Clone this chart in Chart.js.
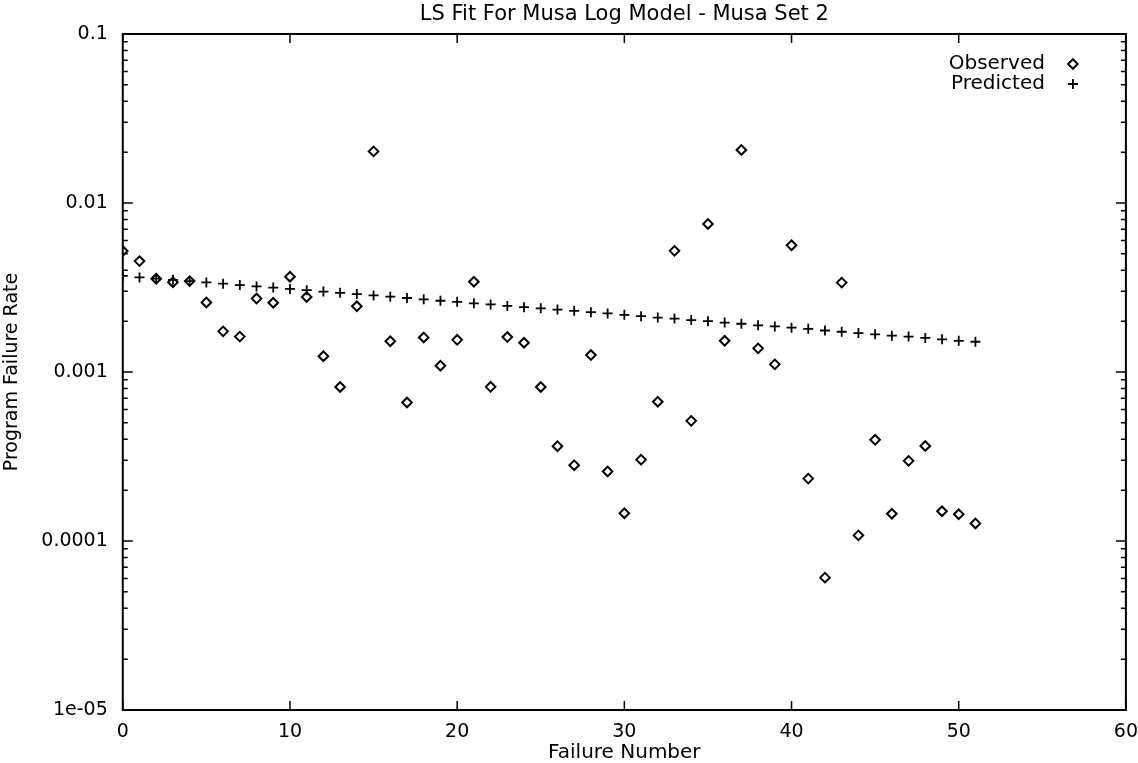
<!DOCTYPE html>
<html>
<head>
<meta charset="utf-8">
<script src="https://cdn.jsdelivr.net/npm/chart.js@4.4.1/dist/chart.umd.min.js"></script>
<style>
body { margin: 0; background: #fff; }
</style>
</head>
<body>
<canvas id="musa" width="1138" height="763"></canvas>
<script>
var failureNumber = [0,1,2,3,4,5,6,7,8,9,10,11,12,13,14,15,16,17,18,19,20,21,22,23,24,25,
  26,27,28,29,30,31,32,33,34,35,36,37,38,39,40,41,42,43,44,45,46,47,48,49,50,51];

var observed = [0.0052,0.00453,0.00356,0.0034,0.00345,0.00258,0.00174,0.00162,0.00272,0.00257,
  0.00366,0.00278,0.00124,0.000815,0.00245,0.0202,0.00152,0.00066,0.0016,0.00109,
  0.00155,0.00342,0.000817,0.00161,0.00149,0.000815,0.000364,0.000281,0.00126,0.000258,
  0.000146,0.000303,0.000667,0.00521,0.000514,0.00752,0.00153,0.0206,0.00138,0.00111,
  0.00562,0.000234,0.0000607,0.00338,0.000108,0.000397,0.000145,0.000298,0.000365,0.00015,
  0.000144,0.000127];

var predicted = [0.0037,0.00363,0.00357,0.00351,0.00345,0.00339,0.00333,0.00327,0.00321,0.00316,
  0.0031,0.00305,0.00299,0.00294,0.00289,0.00284,0.00279,0.00274,0.00269,0.00264,
  0.0026,0.00255,0.00251,0.00246,0.00242,0.00238,0.00234,0.0023,0.00226,0.00222,
  0.00218,0.00214,0.0021,0.00207,0.00203,0.002,0.00196,0.00193,0.00189,0.00186,
  0.00183,0.0018,0.00176,0.00173,0.0017,0.00167,0.00164,0.00162,0.00159,0.00156,
  0.00153,0.00151];

var yTickValues = [1e-5, 1e-4, 1e-3, 1e-2, 1e-1];
var yTickLabels = ['1e-05', '0.0001', '0.001', '0.01', '0.1'];
var chartTitle = 'LS Fit For Musa Log Model - Musa Set 2';

function toPoints(ys) {
  return failureNumber.map(function(x, i) { return {x: x, y: ys[i]}; });
}

Chart.defaults.font.family = '"DejaVu Sans", sans-serif';
Chart.defaults.font.size = 19;
Chart.defaults.color = '#000';

// gnuplot style frame with inward ticks, title and legend
var frameTicks = {
  id: 'frameTicks',
  beforeDatasetsDraw: function(chart) {
    var ctx = chart.ctx, a = chart.chartArea;
    var xs = chart.scales.x, ys = chart.scales.y;
    ctx.save();
    ctx.strokeStyle = '#000';
    ctx.lineWidth = 1.5;
    ctx.beginPath();
    xs.ticks.forEach(function(t) {
      var px = xs.getPixelForValue(t.value);
      ctx.moveTo(px, a.bottom); ctx.lineTo(px, a.bottom - 9);
      ctx.moveTo(px, a.top); ctx.lineTo(px, a.top + 9);
    });
    yTickValues.forEach(function(d, i) {
      var py = ys.getPixelForValue(d);
      ctx.moveTo(a.left, py); ctx.lineTo(a.left + 10, py);
      ctx.moveTo(a.right, py); ctx.lineTo(a.right - 10, py);
      if (i < yTickValues.length - 1) {
        for (var m = 2; m <= 9; m++) {
          var pm = ys.getPixelForValue(d * m);
          ctx.moveTo(a.left, pm); ctx.lineTo(a.left + 5, pm);
          ctx.moveTo(a.right, pm); ctx.lineTo(a.right - 5, pm);
        }
      }
    });
    ctx.stroke();
    ctx.lineWidth = 2;
    ctx.strokeRect(a.left, a.top, a.right - a.left, a.bottom - a.top);
    ctx.restore();
  },
  afterDraw: function(chart) {
    var ctx = chart.ctx, a = chart.chartArea;
    ctx.save();
    ctx.fillStyle = '#000';
    ctx.font = '21px "DejaVu Sans"';
    ctx.textAlign = 'center';
    ctx.textBaseline = 'middle';
    ctx.fillText(chartTitle, (a.left + a.right) / 2, 15);

    ctx.font = '20px "DejaVu Sans"';
    ctx.textAlign = 'right';
    chart.data.datasets.forEach(function(ds, i) {
      var ly = a.top + 30 + i * 20;
      ctx.fillStyle = '#000';
      ctx.fillText(ds.label, a.right - 81, ly);
      ctx.strokeStyle = '#000';
      ctx.fillStyle = 'rgba(0,0,0,0)';
      ctx.lineWidth = ds.borderWidth;
      Chart.helpers.drawPoint(ctx, {pointStyle: ds.pointStyle, radius: ds.pointRadius,
        borderWidth: ds.borderWidth, rotation: 0}, a.right - 53, ly);
    });
    ctx.restore();
  }
};

new Chart(document.getElementById('musa').getContext('2d'), {
  type: 'scatter',
  data: {
    datasets: [
      {
        label: 'Observed',
        data: toPoints(observed),
        pointStyle: 'rectRot',
        pointRadius: 4.8,
        borderWidth: 2,
        borderColor: '#000',
        backgroundColor: 'rgba(0,0,0,0)',
        showLine: false
      },
      {
        label: 'Predicted',
        data: toPoints(predicted),
        pointStyle: 'cross',
        pointRadius: 5,
        borderWidth: 1.8,
        borderColor: '#000',
        backgroundColor: '#000',
        showLine: false
      }
    ]
  },
  options: {
    responsive: false,
    animation: false,
    layout: { padding: { top: 34, right: 0, left: 0, bottom: 0 } },
    plugins: { legend: { display: false }, tooltip: { enabled: false } },
    scales: {
      x: {
        type: 'linear',
        min: 0, max: 60,
        grid: { display: false, drawTicks: false },
        border: { display: false },
        ticks: { stepSize: 10, padding: 0, maxRotation: 0, font: { size: 19, lineHeight: 44 / 19 } },
        title: { display: true, text: 'Failure Number', padding: { top: -11, bottom: 0 },
          font: { size: 20, lineHeight: 1.0 } }
      },
      y: {
        type: 'logarithmic',
        min: 1e-5, max: 0.1,
        grid: { display: false, drawTicks: false },
        border: { display: false },
        afterBuildTicks: function(axis) {
          axis.ticks = yTickValues.map(function(v) { return {value: v}; });
        },
        ticks: {
          padding: 15,
          callback: function(value) {
            var i = yTickValues.indexOf(value);
            return i >= 0 ? yTickLabels[i] : '';
          }
        },
        title: { display: true, text: 'Program Failure Rate', padding: { top: 1, bottom: 2.5 },
          font: { size: 19 } }
      }
    }
  },
  plugins: [frameTicks]
});
</script>
</body>
</html>
